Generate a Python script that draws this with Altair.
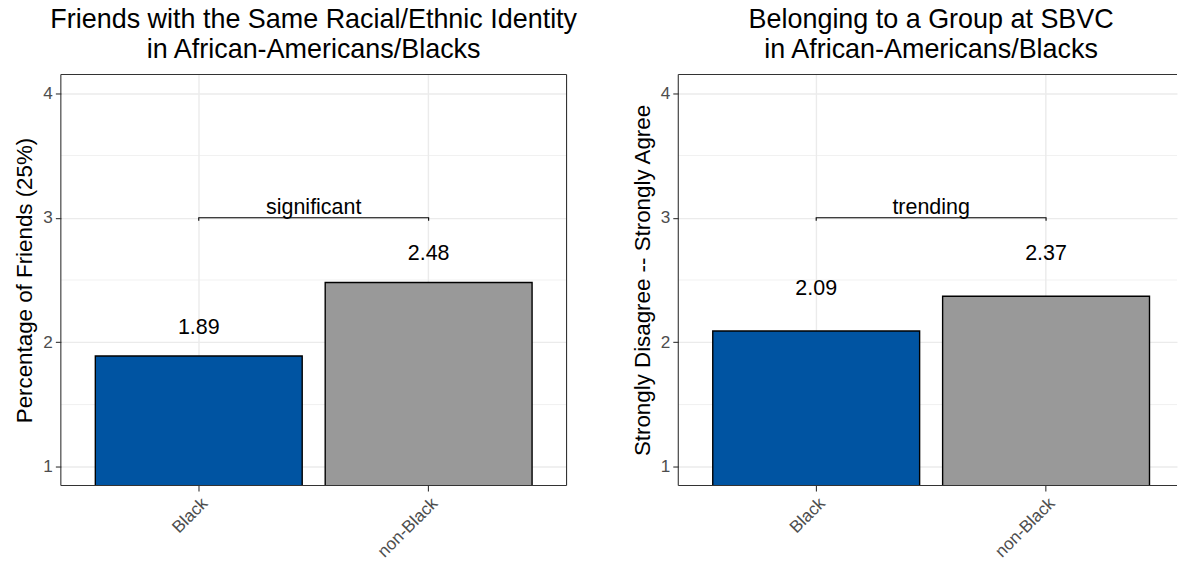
import altair as alt
import pandas as pd

# Group categories and summary values
groups = ["Black", "non-Black"]
bar_colors = ["#0054A2", "#999999"]

friends_means = [1.89, 2.48]
friends_label_y = [2.13, 2.72]

belong_means = [2.09, 2.37]
belong_label_y = [2.44, 2.72]

y_ticks = [1, 2, 3, 4]
y_minor = [1.5, 2.5, 3.5]
y_domain = [0.85, 4.15]
bracket_y = 3.0
bracket_tip = 0.025

FONT = "Liberation Sans"
PANEL_H = 412
BORDER = "#333333"
GRID = "#EBEBEB"


def panel(title_lines, y_title, means, label_y, sig_text, width,
          pad_outer, align, title_dx, right_border=True):
    step = width / (len(groups) - 0.1 + 2 * pad_outer)
    bars = pd.DataFrame({"group": groups, "mean": means, "base": [0, 0]})
    labels = pd.DataFrame({
        "group": groups,
        "label_y": label_y,
        "label": [f"{m:.2f}" for m in means],
    })
    bracket = pd.DataFrame({
        "group": [groups[0], groups[0], groups[1], groups[1]],
        "y": [bracket_y - bracket_tip, bracket_y, bracket_y, bracket_y - bracket_tip],
        "i": [0, 1, 2, 3],
    })
    sig = pd.DataFrame({"group": [groups[0]], "y": [bracket_y], "t": [sig_text]})
    minor = pd.DataFrame({"y": y_minor})
    one = pd.DataFrame({"k": [0]})

    xscale = alt.Scale(domain=groups, paddingInner=0.1,
                       paddingOuter=pad_outer, align=align)
    xaxis = alt.Axis(
        labelAngle=-45, labelAlign="right", labelBaseline="top",
        labelFontSize=17.2, labelColor="#4D4D4D", labelPadding=3,
        tickColor=BORDER, tickSize=5.5, tickWidth=1.1,
        domain=False, grid=True, gridColor=GRID, gridWidth=1.4,
        bandPosition=0.5, title=None,
    )
    yscale = alt.Scale(domain=y_domain, nice=False, zero=False)
    yaxis = alt.Axis(
        values=y_ticks, format="d",
        labelFontSize=17.2, labelColor="#4D4D4D", labelPadding=3,
        tickColor=BORDER, tickSize=5.5, tickWidth=1.1,
        domain=False, grid=True, gridColor=GRID, gridWidth=1.4,
        title=y_title, titleFontSize=22.4, titleColor="black",
        titleFontWeight="normal", titlePadding=6,
    )

    def X(field="group", **kw):
        return alt.X(f"{field}:N", scale=xscale, axis=xaxis, **kw)

    def Y(field):
        return alt.Y(f"{field}:Q", scale=yscale, axis=yaxis)

    minor_grid = alt.Chart(minor).mark_rule(color=GRID, strokeWidth=0.7).encode(
        y=Y("y")
    )

    bar_layer = alt.Chart(bars).mark_bar(
        stroke="black", strokeWidth=1.4, clip=True
    ).encode(
        x=X(),
        y=Y("mean"),
        y2="base:Q",
        color=alt.Color("group:N", scale=alt.Scale(domain=groups, range=bar_colors),
                        legend=None),
    )

    value_text = alt.Chart(labels).mark_text(
        fontSize=21.5, baseline="alphabetic", dy=7.7, color="black"
    ).encode(x=X(), y=Y("label_y"), text="label:N")

    bracket_line = alt.Chart(bracket).mark_line(
        color="black", strokeWidth=1.1
    ).encode(x=X(), y=Y("y"), order="i:Q")

    # label sits midway between the two band centres: end of first band + half the inner gap
    sig_label = alt.Chart(sig).mark_text(
        fontSize=21.5, baseline="bottom", dy=1, dx=step * 0.05, color="black"
    ).encode(x=X(bandPosition=1), y=Y("y"), text="t:N")

    def rule(**enc):
        return alt.Chart(one).mark_rule(color=BORDER, strokeWidth=1.1).encode(**enc)

    borders = [
        rule(x=alt.value(0), x2=alt.value(width), y=alt.value(0)),
        rule(x=alt.value(0), x2=alt.value(width), y=alt.value(PANEL_H)),
        rule(x=alt.value(0), y=alt.value(0), y2=alt.value(PANEL_H)),
    ]
    if right_border:
        borders.append(rule(x=alt.value(width), y=alt.value(0), y2=alt.value(PANEL_H)))

    return alt.layer(
        minor_grid, bar_layer, value_text, bracket_line, sig_label, *borders
    ).properties(
        width=width,
        height=PANEL_H,
        title=alt.TitleParams(
            text=title_lines, anchor="middle", fontSize=27, font=FONT,
            fontWeight="normal", color="black", lineHeight=30, offset=10,
            dx=title_dx,
        ),
    )


left = panel(
    ["Friends with the Same Racial/Ethnic Identity",
     "\u00a0in African-Americans/Blacks"],
    "Percentage of Friends (25%)",
    friends_means, friends_label_y, "significant",
    width=507, pad_outer=0.15, align=0.5, title_dx=0,
)

right = panel(
    ["Belonging to a Group at SBVC",
     "\u00a0in African-Americans/Blacks"],
    "Strongly Disagree -- Strongly Agree",
    belong_means, belong_label_y, "trending",
    width=500, pad_outer=0.13483, align=0.5563, title_dx=3.5,
    right_border=False,
)

chart = alt.hconcat(left, right, spacing=112, bounds="flush").properties(
    padding={"left": 13, "top": 5, "right": 0, "bottom": 0},
).configure(font=FONT).configure_view(stroke=None)

chart.save("out.html", embed_options={"renderer": "svg", "actions": False})
